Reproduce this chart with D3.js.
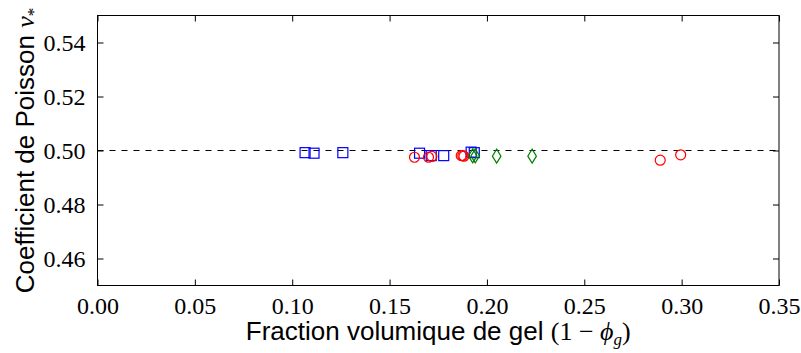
<!DOCTYPE html>
<html>
<head>
<meta charset="utf-8">
<script src="https://cdn.jsdelivr.net/npm/d3@7"></script>
<style>
body { margin: 0; background: #fff; }
svg { display: block; }
</style>
</head>
<body>
<svg id="chart" width="801" height="353"></svg>
<script>
// ---- data ----
const xTicks = [0.00, 0.05, 0.10, 0.15, 0.20, 0.25, 0.30, 0.35];
const yTicks = [0.46, 0.48, 0.50, 0.52, 0.54];
const xDomain = [0, 0.35];
const yDomain = [0.45, 0.55];
const refLine = 0.50;

// blue squares
const squaresX = [0.1066, 0.1112, 0.1260, 0.1654, 0.1714, 0.1778, 0.1919, 0.1935];
const squaresY = [0.4992, 0.4990, 0.4992, 0.4990, 0.4981, 0.4981, 0.4994, 0.4992];
// red circles
const circlesX = [0.1628, 0.1700, 0.1717, 0.1868, 0.1876, 0.1882, 0.2890, 0.2995];
const circlesY = [0.4975, 0.4975, 0.4978, 0.4981, 0.4981, 0.4979, 0.4964, 0.4984];
// green diamonds
const diamondsX = [0.1927, 0.1940, 0.2050, 0.2232];
const diamondsY = [0.4980, 0.4980, 0.4979, 0.4979];

// ---- layout ----
const W = 801, H = 353;
const m = { left: 97.5, right: 779, top: 15.5, bottom: 285.5 };
const svg = d3.select("#chart");

const x = d3.scaleLinear().domain(xDomain).range([m.left, m.right]);
const y = d3.scaleLinear().domain(yDomain).range([m.bottom, m.top]);

const tickFont = "'Liberation Serif', 'Times New Roman', serif";
const labelFont = "'Liberation Sans', Arial, Helvetica, sans-serif";

// reference dashed line
svg.append("line")
  .attr("x1", x(xDomain[0])).attr("x2", x(xDomain[1]))
  .attr("y1", y(refLine)).attr("y2", y(refLine))
  .attr("stroke", "#000").attr("stroke-width", 1.1)
  .attr("stroke-dasharray", "6,6");

// markers
const gm = svg.append("g");
const sqData = squaresX.map((v, i) => [v, squaresY[i]]);
const ciData = circlesX.map((v, i) => [v, circlesY[i]]);
const diData = diamondsX.map((v, i) => [v, diamondsY[i]]);

gm.selectAll("rect.sq").data(sqData).enter().append("rect")
  .attr("x", d => x(d[0]) - 5).attr("y", d => y(d[1]) - 5)
  .attr("width", 10).attr("height", 10)
  .attr("fill", "none").attr("stroke", "#0000ff").attr("stroke-width", 1.2);

gm.selectAll("circle.ci").data(ciData).enter().append("circle")
  .attr("cx", d => x(d[0])).attr("cy", d => y(d[1])).attr("r", 5)
  .attr("fill", "none").attr("stroke", "#ff0000").attr("stroke-width", 1.2);

gm.selectAll("path.di").data(diData).enter().append("path")
  .attr("d", d => {
    const cx = x(d[0]), cy = y(d[1]);
    return `M${cx},${cy-7}L${cx+4.3},${cy}L${cx},${cy+7}L${cx-4.3},${cy}Z`;
  })
  .attr("fill", "none").attr("stroke", "#008000").attr("stroke-width", 1.2);

// axes with inward ticks
const tl = 6;
const axB = d3.axisBottom(x).tickValues(xTicks).tickSizeInner(-tl).tickSizeOuter(0).tickPadding(tl + 5)
  .tickFormat(d3.format(".2f"));
const axT = d3.axisTop(x).tickValues(xTicks).tickSizeInner(-tl).tickSizeOuter(0).tickFormat("");
const axL = d3.axisLeft(y).tickValues(yTicks).tickSizeInner(-tl).tickSizeOuter(0).tickPadding(tl + 6)
  .tickFormat(d3.format(".2f"));
const axR = d3.axisRight(y).tickValues(yTicks).tickSizeInner(-tl).tickSizeOuter(0).tickFormat("");

function style(g) {
  g.select(".domain").remove();
  g.selectAll("line").attr("stroke", "#000").attr("stroke-width", 1);
  g.selectAll("text").attr("fill", "#000").style("font-family", tickFont).style("font-size", "24px");
}
svg.append("g").attr("transform", `translate(0,${m.bottom})`).call(axB).call(style);
svg.append("g").attr("transform", `translate(0,${m.top})`).call(axT).call(style);
svg.append("g").attr("transform", `translate(${m.left},0)`).call(axL).call(style);
svg.append("g").attr("transform", `translate(${m.right},0)`).call(axR).call(style);

// frame
svg.append("rect")
  .attr("x", m.left).attr("y", m.top)
  .attr("width", m.right - m.left).attr("height", m.bottom - m.top)
  .attr("fill", "none").attr("stroke", "#000").attr("stroke-width", 1);

// x label
const xl = svg.append("text")
  .attr("x", (m.left + m.right) / 2).attr("y", 340)
  .attr("text-anchor", "middle")
  .style("font-family", labelFont).style("font-size", "26px").attr("fill", "#000");
xl.append("tspan").text("Fraction volumique de gel ");
xl.append("tspan").style("font-family", tickFont).text("(1 \u2212 ");
xl.append("tspan").style("font-family", tickFont).style("font-style", "italic").text("\u03d5");
xl.append("tspan").style("font-family", tickFont).style("font-style", "italic")
  .style("font-size", "17px").attr("dy", 5).text("g");
xl.append("tspan").style("font-family", tickFont).attr("dy", -5).text(")");

// y label
const yl = svg.append("text")
  .attr("transform", `translate(34,${(m.top + m.bottom) / 2}) rotate(-90)`)
  .attr("text-anchor", "middle")
  .style("font-family", labelFont).style("font-size", "26px").attr("fill", "#000");
yl.append("tspan").text("Coefficient de Poisson ");
yl.append("tspan").style("font-family", tickFont).style("font-style", "italic").text("\u03bd");
yl.append("tspan").style("font-family", tickFont).style("font-size", "17px").attr("dy", 5).text("*");
</script>
</body>
</html>
